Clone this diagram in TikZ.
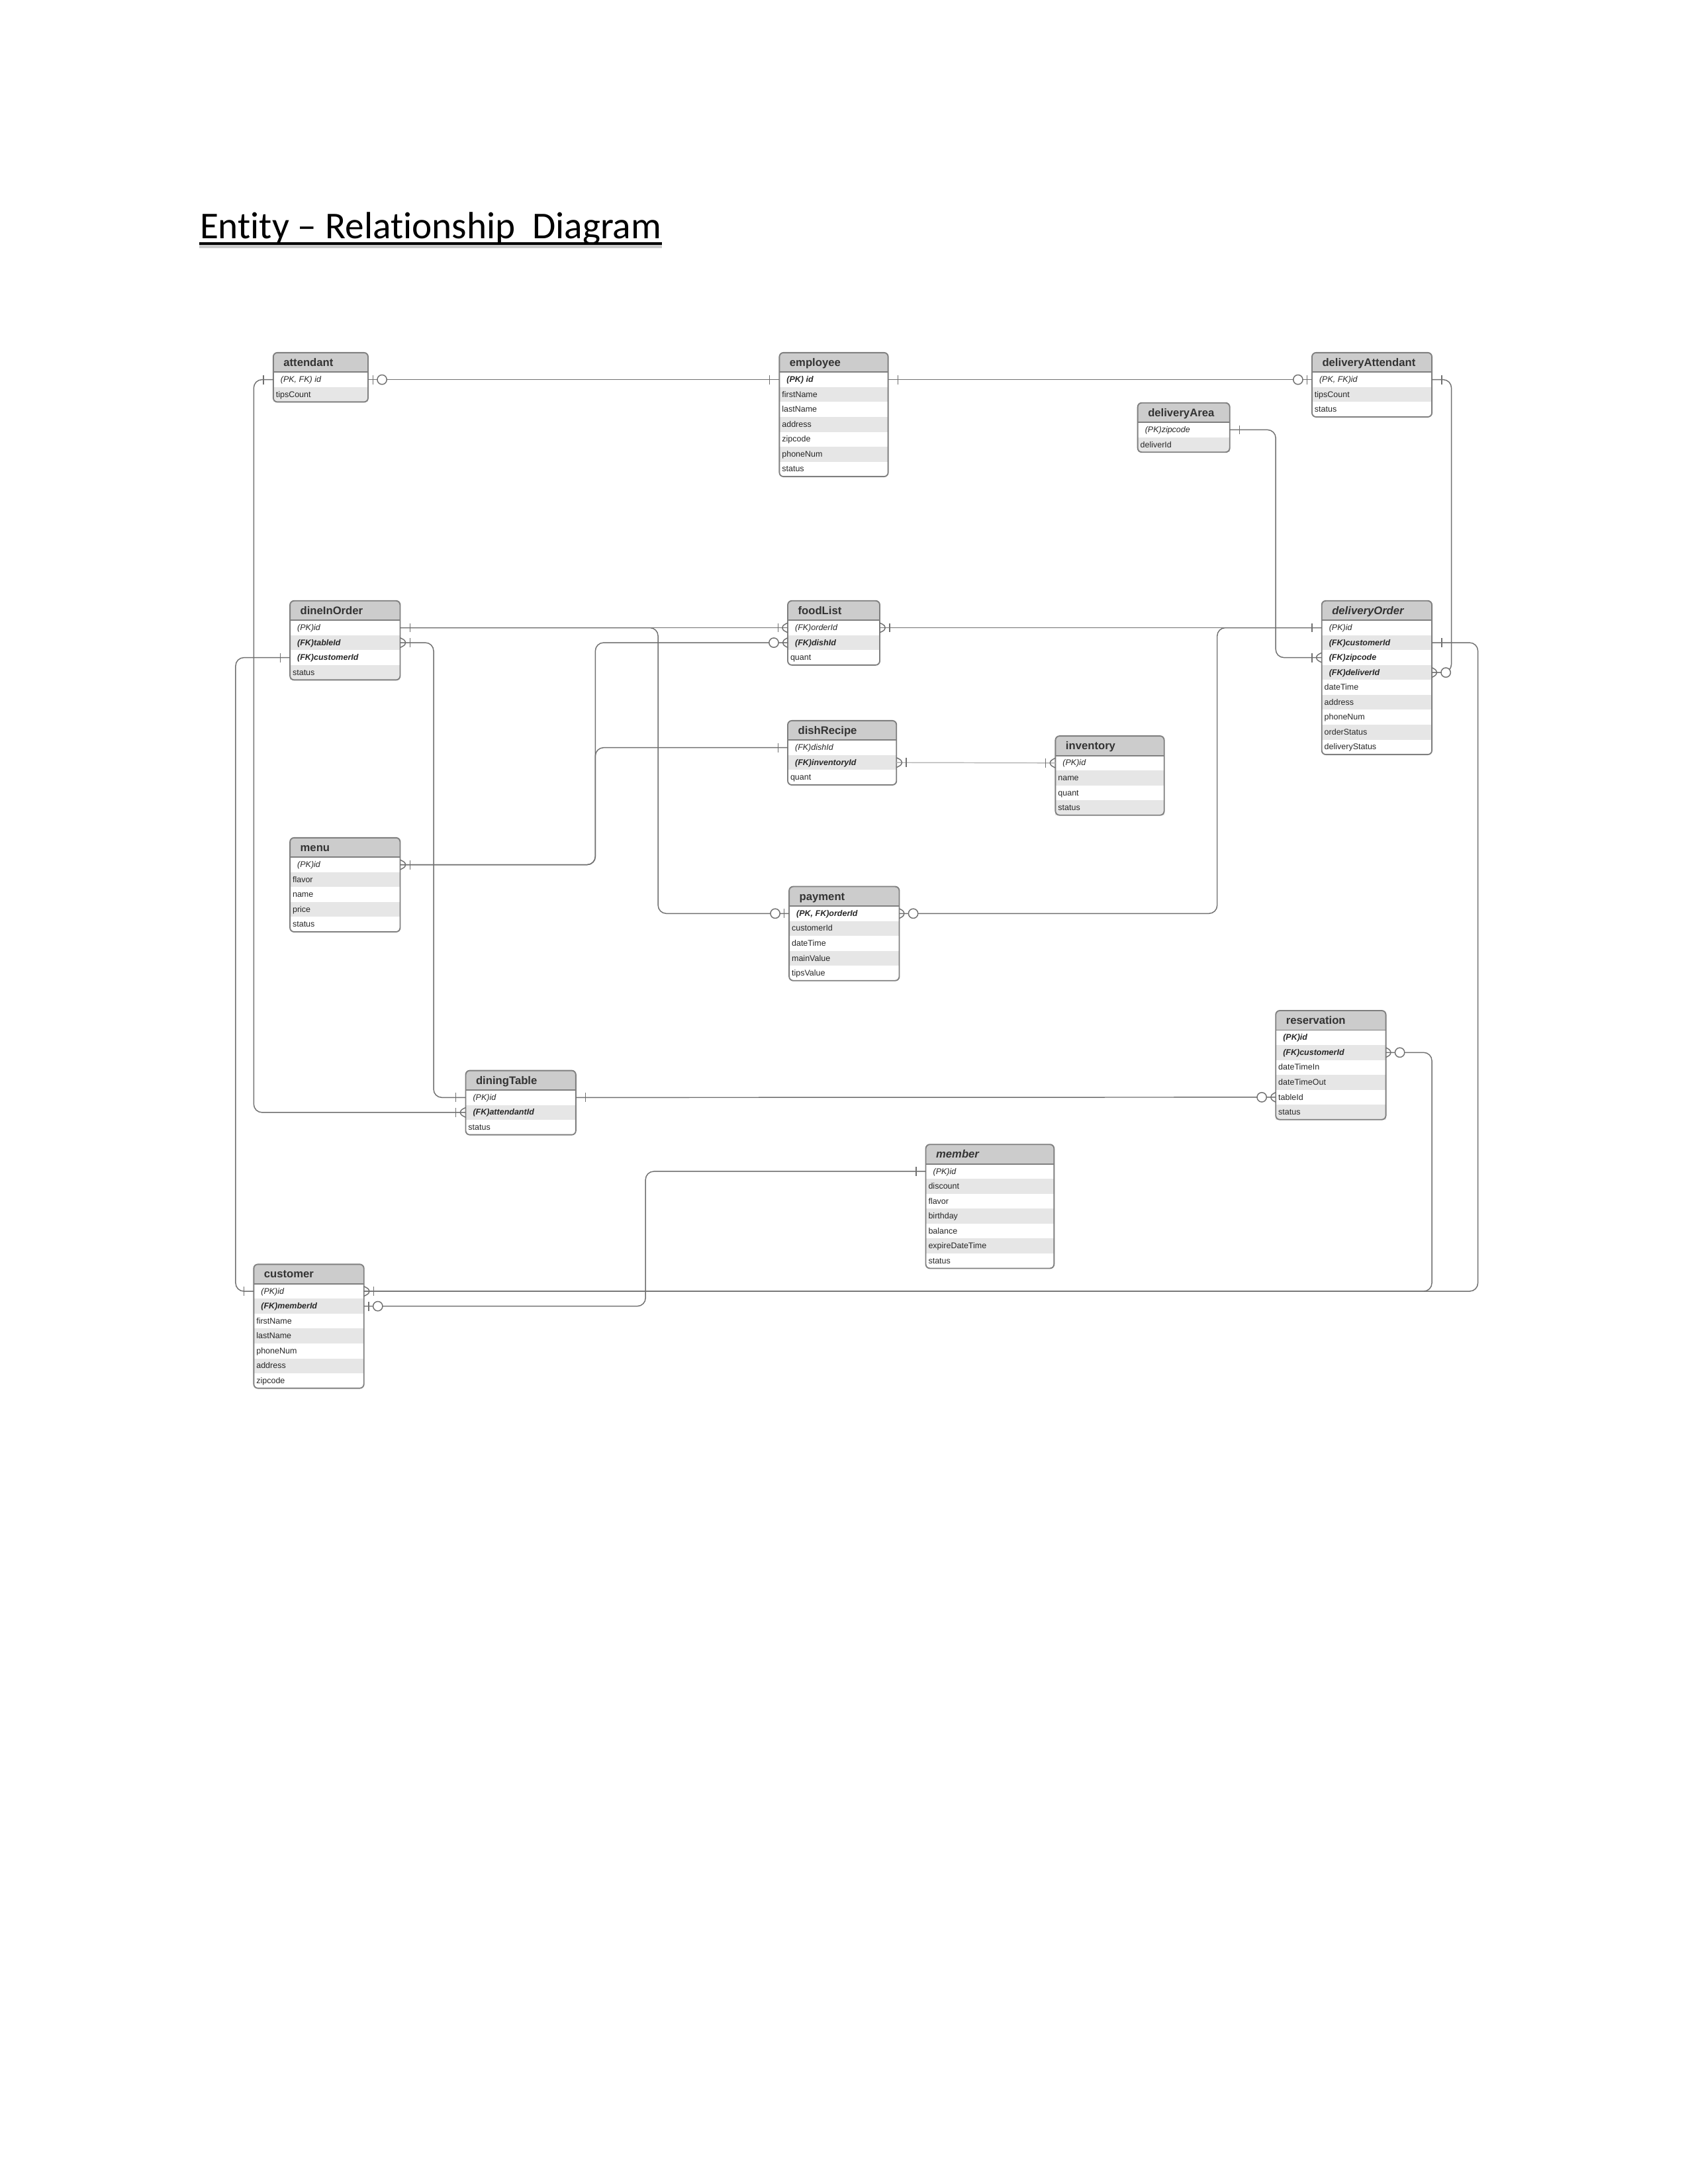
\documentclass[tikz,border=0pt]{standalone}
\usepackage{fontspec}
\setmainfont{Liberation Sans}
\newfontfamily\titlefont[Ligatures=NoCommon]{Carlito}
\usepackage{tikz}

\definecolor{linegray}{HTML}{707070}
\definecolor{lightgray}{HTML}{B4B4B4}
\definecolor{boxgray}{HTML}{7F7F7F}
\definecolor{headgray}{HTML}{CCCCCC}
\definecolor{rowgray}{HTML}{E6E6E6}
\definecolor{textgray}{HTML}{333333}

\newcommand{\pk}[1]{\hspace{1.7bp}\itshape #1}
\newcommand{\fk}[1]{\hspace{1.7bp}\bfseries\itshape #1}

\newcommand{\ertable}[6]{%
  \foreach \fld [count=\k] in {#6} {
    \pgfmathsetmacro{\rowtop}{#3+14+(\k-1)*10.7}
    \ifodd\k\relax\else
      \fill[rowgray] (#2,\rowtop) rectangle ++(#4,10.7);
    \fi
    \node[fieldtext] at (#2+1.5,\rowtop+7.3) {\fld};
    \coordinate (#1-\k-w) at (#2,\rowtop+5.35);
    \coordinate (#1-\k-e) at (#2+#4,\rowtop+5.35);
    \xdef\rowcount{\k}
  }
  \pgfmathsetmacro{\boxbottom}{#3+14+\rowcount*10.7}
  \fill[headgray] (#2,#3+14) [rounded corners=1.5] -- (#2,#3) -- (#2+#4,#3) [sharp corners] -- (#2+#4,#3+14) -- cycle;
  \node[headtext] (#1) at (#2+7,#3+9.8) {#5};
  \draw[boxline] (#2,#3+14) -- ++(#4,0);
  \draw[boxline, rounded corners=1.5] (#2,#3) rectangle (#2+#4,\boxbottom);
}

\begin{document}
\begin{tikzpicture}[x=0.5055bp, y=-0.5055bp,
    erline/.style={draw=linegray, line width=0.35bp, rounded corners=3},
    boxline/.style={draw=boxgray, line width=0.45bp},
    fieldtext/.style={anchor=base west, inner sep=0pt, text=black!85,
      font=\fontsize{3bp}{3.6bp}\selectfont},
    headtext/.style={anchor=base west, inner sep=0pt, text=textgray,
      font=\fontsize{4bp}{4.8bp}\selectfont\bfseries},
    endone/.pic={\draw[erline] (7,-3.3) -- (7,3.3);},
    endzeroone/.pic={\draw[erline] (3.5,-3.3) -- (3.5,3.3);
      \draw[erline, fill=white] (10,0) circle (3.4);},
    endonemany/.pic={\draw[erline] (0,-3.5) -- (7,0) -- (0,3.5);
      \draw[erline] (7,-3.3) -- (7,3.3);},
    endzeromany/.pic={\draw[erline] (0,-3.5) -- (6.6,0) -- (0,3.5);
      \draw[erline, fill=white] (10,0) circle (3.4);}]
  \useasboundingbox (0,0) rectangle (1210.7,1566.8);

  \node[anchor=base west, inner sep=0pt, font=\titlefont\fontsize{13.75bp}{17bp}\selectfont]
    (title) at (143,171) {Entity – Relationship\ \ Diagram};
  \draw[gray!40, line width=1.4bp] ([yshift=-2.9bp]title.base west) -- ([yshift=-2.9bp]title.base east);
  \draw[black, line width=1.1bp] ([yshift=-1.9bp]title.base west) -- ([yshift=-1.9bp]title.base east);

  \ertable{att}{196}{253}{68}{attendant}{\pk{(PK, FK) id}, tipsCount}
  \ertable{emp}{559}{253}{78}{employee}{\fk{(PK) id}, firstName, lastName, address, zipcode, phoneNum, status}
  \ertable{dat}{941}{253}{86}{deliveryAttendant}{\pk{(PK, FK)id}, tipsCount, status}
  \ertable{dar}{816}{289}{66}{deliveryArea}{\pk{(PK)zipcode}, deliverId}
  \ertable{dio}{208}{431}{79}{dineInOrder}{\pk{(PK)id}, \fk{(FK)tableId}, \fk{(FK)customerId}, status}
  \ertable{fdl}{565}{431}{66}{foodList}{\pk{(FK)orderId}, \fk{(FK)dishId}, quant}
  \ertable{dor}{948}{431}{79}{\itshape deliveryOrder}{\pk{(PK)id}, \fk{(FK)customerId}, \fk{(FK)zipcode}, \fk{(FK)deliverId}, dateTime, address, phoneNum, orderStatus, deliveryStatus}
  \ertable{dsr}{565}{517}{78}{dishRecipe}{\pk{(FK)dishId}, \fk{(FK)inventoryId}, quant}
  \ertable{inv}{757}{528}{78}{inventory}{\pk{(PK)id}, name, quant, status}
  \ertable{men}{208}{601}{79}{menu}{\pk{(PK)id}, flavor, name, price, status}
  \ertable{pay}{566}{636}{79}{payment}{\fk{(PK, FK)orderId}, customerId, dateTime, mainValue, tipsValue}
  \ertable{res}{915}{725}{79}{reservation}{\fk{(PK)id}, \fk{(FK)customerId}, dateTimeIn, dateTimeOut, tableId, status}
  \ertable{dtb}{334}{768}{79}{diningTable}{\pk{(PK)id}, \fk{(FK)attendantId}, status}
  \ertable{mbr}{664}{821}{92}{\itshape member}{\pk{(PK)id}, discount, flavor, birthday, balance, expireDateTime, status}
  \ertable{cst}{182}{907}{79}{customer}{\pk{(PK)id}, \fk{(FK)memberId}, firstName, lastName, phoneNum, address, zipcode}

  \draw[erline] (att-1-e) -- (emp-1-w);
  \draw[erline] (emp-1-e) -- (dat-1-w);
  \draw[erline] (att-1-w) -- ++(-14,0) |- (dtb-2-w);
  \draw[erline] (dat-1-e) -- ++(14,0) |- (dor-4-e);
  \draw[erline] (dar-1-e) -- ++(33,0) |- (dor-3-w);
  \draw[erline] (dio-1-e) -- (fdl-1-w);
  \draw[erline] (dio-1-e) -- ++(185,0) |- (pay-1-w);
  \draw[erline] (dor-1-w) -- (fdl-1-e);
  \draw[erline] (dor-1-w) -- ++(-75,0) |- (pay-1-e);
  \draw[erline] (fdl-2-w) -- ++(-138,0) |- (men-1-e);
  \draw[erline] (dsr-1-w) -- ++(-138,0) |- (men-1-e);
  \draw[erline, draw=lightgray] (dsr-2-e) -- (inv-1-w);
  \draw[erline] (dio-2-e) -- ++(24,0) |- (dtb-1-w);
  \draw[erline] (dtb-1-e) -- (res-5-w);
  \draw[erline] (dio-3-w) -- ++(-39,0) |- (cst-1-w);
  \draw[erline] (cst-1-e) -- ++(799,0) |- (dor-2-e);
  \draw[erline] (res-2-e) -- ++(33,0) |- (cst-1-e);
  \draw[erline] (cst-2-e) -- ++(202,0) |- (mbr-1-w);

  \pic at (att-1-e) {endzeroone};
  \pic[xscale=-1] at (emp-1-w) {endone};
  \pic at (emp-1-e) {endone};
  \pic[xscale=-1] at (dat-1-w) {endzeroone};
  \pic[xscale=-1] at (att-1-w) {endone};
  \pic[xscale=-1] at (dtb-2-w) {endonemany};
  \pic at (dat-1-e) {endone};
  \pic at (dor-4-e) {endzeromany};
  \pic at (dar-1-e) {endone};
  \pic[xscale=-1] at (dor-3-w) {endonemany};
  \pic at (dio-1-e) {endone};
  \pic[xscale=-1] at (fdl-1-w) {endonemany};
  \pic[xscale=-1] at (pay-1-w) {endzeroone};
  \pic[xscale=-1] at (dor-1-w) {endone};
  \pic at (fdl-1-e) {endonemany};
  \pic at (pay-1-e) {endzeromany};
  \pic[xscale=-1] at (fdl-2-w) {endzeromany};
  \pic at (men-1-e) {endonemany};
  \pic[xscale=-1] at (dsr-1-w) {endone};
  \pic at (dsr-2-e) {endonemany};
  \pic[xscale=-1] at (inv-1-w) {endonemany};
  \pic at (dio-2-e) {endonemany};
  \pic[xscale=-1] at (dtb-1-w) {endone};
  \pic at (dtb-1-e) {endone};
  \pic[xscale=-1] at (res-5-w) {endzeromany};
  \pic[xscale=-1] at (dio-3-w) {endone};
  \pic[xscale=-1] at (cst-1-w) {endone};
  \pic at (cst-1-e) {endonemany};
  \pic at (dor-2-e) {endone};
  \pic at (res-2-e) {endzeromany};
  \pic at (cst-2-e) {endzeroone};
  \pic[xscale=-1] at (mbr-1-w) {endone};
\end{tikzpicture}
\end{document}
